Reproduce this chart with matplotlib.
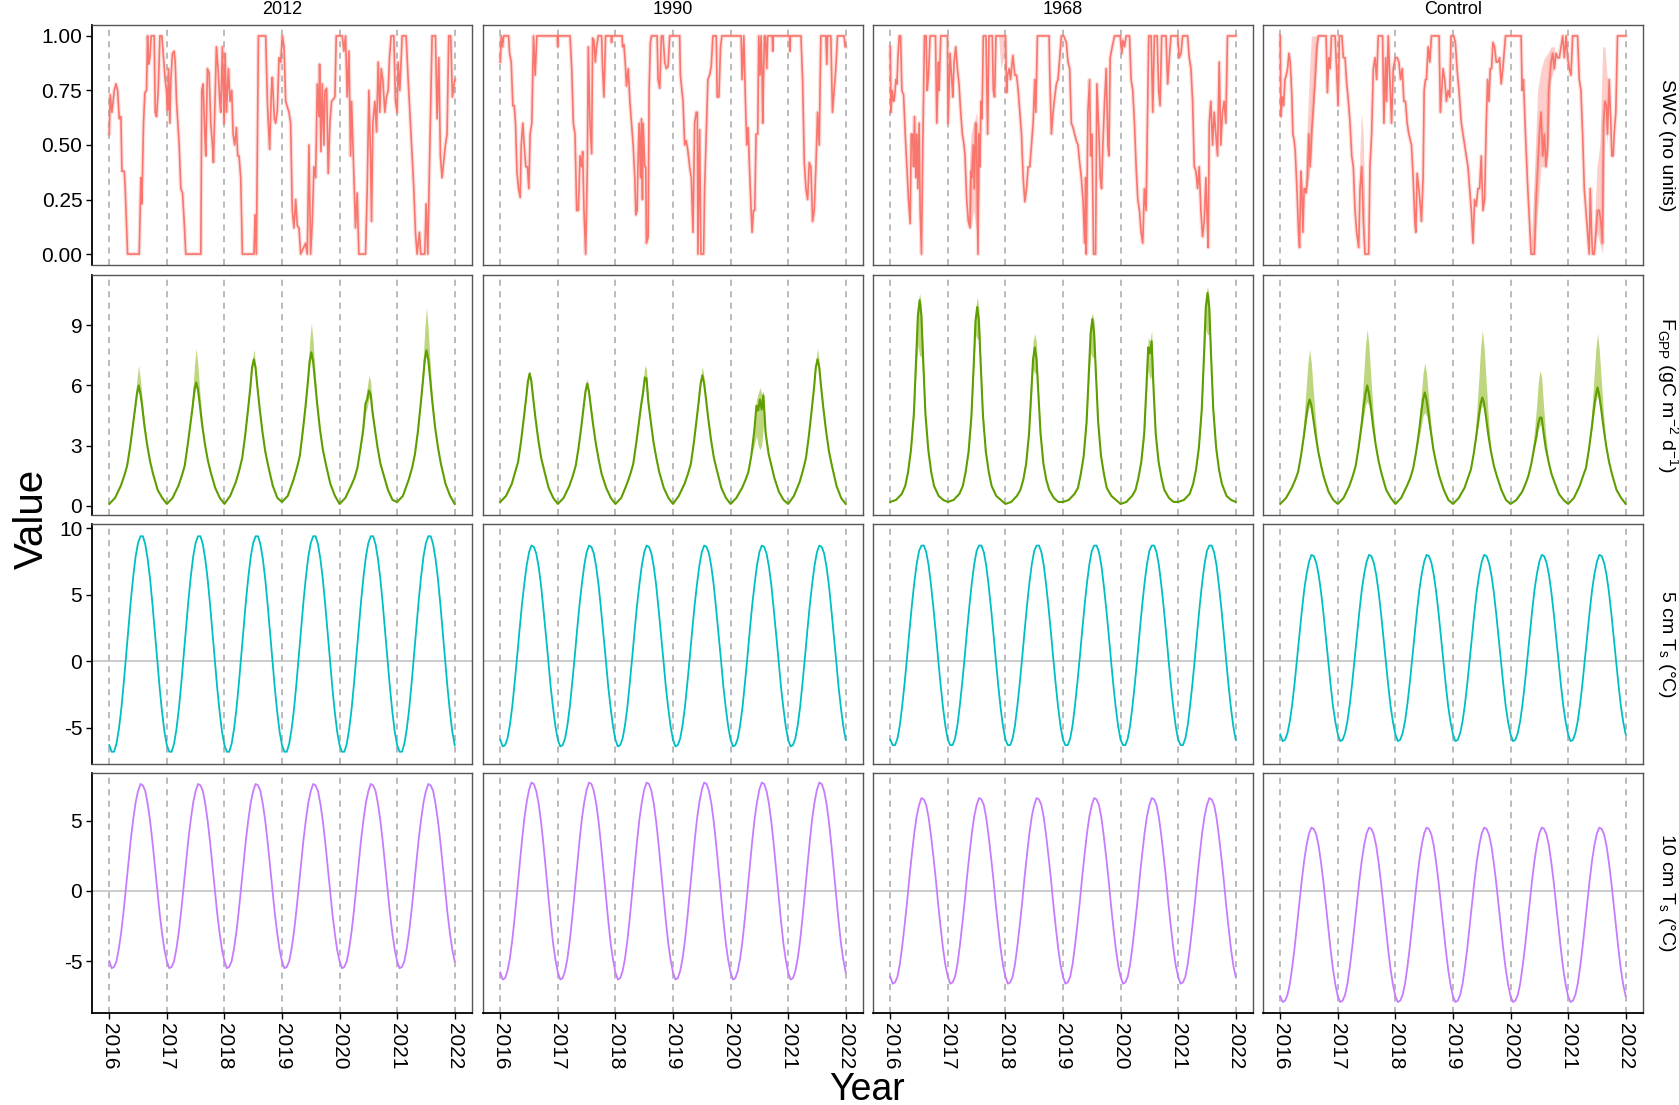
import numpy as np
import matplotlib
matplotlib.use("Agg")
import matplotlib.pyplot as plt

plt.rcParams['font.family'] = ['Liberation Sans', 'DejaVu Sans']

# facets
sites = ['2012', '1990', '1968', 'Control']
variables = ['SWC (no units)',
             r'F$_{\mathregular{GPP}}$ (gC m$^{\mathregular{-2}}$ d$^{\mathregular{-1}}$)',
             r'5 cm T$_{\mathregular{s}}$ ($\mathregular{\degree}$C)',
             r'10 cm T$_{\mathregular{s}}$ ($\mathregular{\degree}$C)']
years = [2016, 2017, 2018, 2019, 2020, 2021, 2022]

# ---- SWC: (years since 2016, value)
swc_2012 = [(0.000,0.55),(0.017,0.73),(0.046,0.65),(0.087,0.75),(0.116,0.78),(0.145,0.75),(0.173,0.62),(0.202,0.63),(0.220,0.38),(0.260,0.38),(0.277,0.30),(0.318,0.00),(0.520,0.00),(0.549,0.35),(0.566,0.23),(0.595,0.60),(0.618,0.74),(0.647,0.75),(0.665,1.00),(0.682,0.87),(0.705,0.90),(0.728,1.00),(0.780,1.00),(0.798,0.65),(0.821,0.63),(0.850,0.75),(0.879,1.00),(0.913,1.00),(0.942,0.90),(0.971,0.80),(0.994,0.75),(1.012,0.66),(1.029,0.85),(1.052,0.60),(1.069,0.80),(1.098,0.92),(1.127,0.93),(1.145,0.88),(1.168,0.70),(1.214,0.50),(1.243,0.30),(1.272,0.28),(1.301,0.15),(1.329,0.00),(1.590,0.00),(1.607,0.75),(1.630,0.78),(1.659,0.55),(1.676,0.45),(1.705,0.85),(1.734,0.83),(1.763,0.60),(1.792,0.50),(1.809,0.42),(1.832,0.65),(1.861,0.95),(1.890,0.85),(1.919,0.70),(1.936,0.65),(1.965,0.95),(1.994,0.60),(2.012,0.92),(2.035,0.65),(2.069,0.85),(2.098,0.70),(2.127,0.75),(2.150,0.55),(2.179,0.50),(2.208,0.58),(2.231,0.45),(2.254,0.45),(2.283,0.35),(2.312,0.00),(2.514,0.00),(2.532,0.18),(2.555,0.00),(2.590,1.00),(2.717,1.00),(2.746,0.70),(2.763,0.60),(2.786,0.48),(2.815,0.75),(2.832,0.81),(2.867,0.62),(2.890,0.60),(2.919,0.66),(2.948,0.90),(2.977,0.88),(3.006,1.00),(3.035,0.95),(3.064,0.70),(3.121,0.65),(3.150,0.60),(3.179,0.20),(3.208,0.12),(3.237,0.25),(3.266,0.13),(3.295,0.12),(3.324,0.00),(3.410,0.05),(3.439,0.00),(3.468,0.50),(3.497,0.00),(3.526,0.15),(3.555,0.40),(3.584,0.35),(3.613,0.78),(3.642,0.63),(3.653,0.87),(3.676,0.47),(3.699,0.78),(3.728,0.50),(3.746,0.75),(3.775,0.76),(3.803,0.37),(3.832,0.60),(3.861,0.70),(3.919,0.72),(3.942,1.00),(4.046,1.00),(4.075,0.93),(4.104,1.00),(4.133,0.72),(4.162,0.93),(4.191,0.45),(4.208,0.70),(4.249,0.35),(4.277,0.12),(4.306,0.28),(4.335,0.00),(4.451,0.00),(4.480,0.30),(4.509,0.75),(4.538,0.45),(4.555,0.15),(4.578,0.60),(4.613,0.70),(4.642,0.56),(4.671,0.88),(4.699,0.65),(4.723,0.85),(4.751,0.80),(4.786,0.65),(4.815,0.72),(4.844,0.75),(4.867,0.90),(4.896,1.00),(4.942,1.00),(4.971,0.70),(5.000,0.65),(5.017,0.88),(5.046,0.75),(5.087,1.00),(5.156,1.00),(5.191,0.80),(5.231,0.60),(5.289,0.30),(5.318,0.10),(5.347,0.00),(5.387,0.10),(5.410,0.00),(5.480,0.00),(5.503,0.23),(5.532,0.00),(5.561,0.40),(5.607,1.00),(5.665,1.00),(5.694,0.62),(5.723,0.90),(5.751,0.45),(5.780,0.35),(5.838,0.50),(5.867,0.55),(5.896,1.00),(5.930,1.00),(5.960,0.72),(6.000,0.80)]

swc_1990 = [(0.000,0.88),(0.017,1.00),(0.040,0.95),(0.058,1.00),(0.144,1.00),(0.162,0.92),(0.190,0.88),(0.219,0.68),(0.242,0.68),(0.265,0.60),(0.289,0.38),(0.317,0.30),(0.346,0.26),(0.364,0.50),(0.392,0.60),(0.415,0.50),(0.444,0.40),(0.473,0.40),(0.496,0.30),(0.519,0.55),(0.548,0.60),(0.577,1.00),(0.606,0.82),(0.635,1.00),(0.990,1.00),(0.998,0.95),(1.006,1.00),(1.212,1.00),(1.241,0.85),(1.269,0.60),(1.298,0.55),(1.327,0.20),(1.356,0.20),(1.385,0.45),(1.414,0.40),(1.431,0.47),(1.454,0.20),(1.483,0.00),(1.512,0.40),(1.529,0.95),(1.558,0.60),(1.587,0.46),(1.604,0.99),(1.627,0.98),(1.650,0.88),(1.673,0.95),(1.702,1.00),(1.760,1.00),(1.777,0.85),(1.800,0.72),(1.829,1.00),(1.925,1.00),(1.933,0.97),(1.941,1.00),(2.116,1.00),(2.124,0.95),(2.147,0.96),(2.170,0.88),(2.193,0.77),(2.222,0.85),(2.251,0.70),(2.279,0.60),(2.308,0.50),(2.337,0.35),(2.354,0.18),(2.377,0.20),(2.395,0.45),(2.412,0.60),(2.435,0.35),(2.452,0.62),(2.470,0.25),(2.481,0.60),(2.510,0.40),(2.527,0.40),(2.539,0.05),(2.568,0.08),(2.585,0.75),(2.608,0.97),(2.626,1.00),(2.724,1.00),(2.741,0.80),(2.770,0.76),(2.799,1.00),(2.827,1.00),(2.856,0.88),(2.885,0.85),(2.914,0.86),(2.943,1.00),(3.116,1.00),(3.128,0.82),(3.174,0.70),(3.203,0.50),(3.231,0.52),(3.260,0.47),(3.289,0.40),(3.318,0.35),(3.347,0.10),(3.376,0.60),(3.404,0.65),(3.422,0.65),(3.433,0.00),(3.462,0.57),(3.485,0.00),(3.531,0.00),(3.549,0.30),(3.578,0.55),(3.606,0.80),(3.635,0.82),(3.664,0.86),(3.693,1.00),(3.751,1.00),(3.768,0.72),(3.797,0.72),(3.826,0.95),(3.849,1.00),(4.183,1.00),(4.201,0.80),(4.230,1.00),(4.258,0.70),(4.282,0.50),(4.305,0.58),(4.328,0.40),(4.357,0.20),(4.374,0.10),(4.397,0.20),(4.420,0.20),(4.443,0.55),(4.472,0.55),(4.489,1.00),(4.512,0.82),(4.530,1.00),(4.547,0.82),(4.558,0.60),(4.587,1.00),(4.605,1.00),(4.628,0.85),(4.645,1.00),(4.724,1.00),(4.732,0.93),(4.740,1.00),(5.024,1.00),(5.032,0.93),(5.040,1.00),(5.222,1.00),(5.251,0.80),(5.280,0.42),(5.309,0.30),(5.338,0.25),(5.366,0.42),(5.395,0.40),(5.424,0.15),(5.453,0.20),(5.482,0.40),(5.511,0.65),(5.540,0.50),(5.568,1.00),(5.655,1.00),(5.672,0.87),(5.684,1.00),(5.741,1.00),(5.770,0.65),(5.799,0.75),(5.828,0.85),(5.857,1.00),(5.972,1.00),(5.990,0.95),(6.000,0.95)]

swc_1968 = [(0.000,0.95),(0.012,0.65),(0.035,0.75),(0.058,0.70),(0.075,0.72),(0.098,0.80),(0.115,0.78),(0.133,0.90),(0.156,1.00),(0.179,1.00),(0.202,0.75),(0.231,0.73),(0.260,0.55),(0.289,0.40),(0.317,0.25),(0.346,0.14),(0.364,0.55),(0.387,0.55),(0.404,0.40),(0.421,0.63),(0.444,0.35),(0.462,0.55),(0.479,0.30),(0.502,0.60),(0.519,0.20),(0.542,0.00),(0.565,0.50),(0.594,1.00),(0.623,1.00),(0.641,0.75),(0.664,0.82),(0.692,1.00),(0.785,1.00),(0.808,0.60),(0.837,0.88),(0.848,0.75),(0.877,1.00),(0.993,1.00),(1.004,0.60),(1.039,0.92),(1.068,0.80),(1.085,0.72),(1.108,0.88),(1.137,0.95),(1.166,0.85),(1.194,0.78),(1.223,0.65),(1.252,0.55),(1.281,0.50),(1.298,0.45),(1.327,0.25),(1.356,0.15),(1.385,0.12),(1.402,0.38),(1.414,0.35),(1.443,0.50),(1.460,0.30),(1.483,0.60),(1.500,0.50),(1.523,0.00),(1.541,0.55),(1.558,0.40),(1.575,0.70),(1.593,0.62),(1.616,1.00),(1.662,1.00),(1.691,0.55),(1.714,1.00),(1.772,1.00),(1.789,0.75),(1.812,0.72),(1.835,1.00),(2.002,1.00),(2.020,0.74),(2.037,0.82),(2.066,0.85),(2.089,0.80),(2.106,0.85),(2.129,0.91),(2.164,0.82),(2.193,0.82),(2.222,0.75),(2.250,0.65),(2.279,0.55),(2.308,0.35),(2.337,0.24),(2.366,0.30),(2.395,0.40),(2.424,0.40),(2.452,0.50),(2.481,0.60),(2.510,0.80),(2.527,0.65),(2.556,1.00),(2.758,1.00),(2.770,0.83),(2.799,0.55),(2.827,0.65),(2.856,0.72),(2.885,0.78),(2.914,0.80),(2.943,0.90),(2.972,1.00),(3.012,1.00),(3.058,0.97),(3.087,0.88),(3.116,0.85),(3.145,0.60),(3.174,0.58),(3.203,0.55),(3.231,0.52),(3.260,0.50),(3.289,0.42),(3.318,0.35),(3.347,0.25),(3.376,0.05),(3.393,0.35),(3.404,0.00),(3.433,0.65),(3.462,0.80),(3.480,0.45),(3.503,0.55),(3.531,0.00),(3.566,0.00),(3.589,0.78),(3.624,0.55),(3.647,0.35),(3.670,0.30),(3.693,0.50),(3.722,0.70),(3.751,0.85),(3.780,0.50),(3.797,0.45),(3.820,0.90),(3.855,0.95),(3.895,1.00),(3.993,1.00),(4.022,0.92),(4.039,0.98),(4.068,0.95),(4.097,1.00),(4.155,1.00),(4.183,0.80),(4.212,0.75),(4.241,0.60),(4.270,0.40),(4.299,0.25),(4.328,0.20),(4.357,0.10),(4.385,0.05),(4.414,0.30),(4.443,0.20),(4.489,1.00),(4.530,1.00),(4.559,0.65),(4.587,1.00),(4.634,1.00),(4.662,0.75),(4.686,0.68),(4.714,1.00),(4.789,1.00),(4.818,0.78),(4.847,0.90),(4.876,1.00),(4.991,1.00),(5.020,0.90),(5.049,0.92),(5.078,1.00),(5.164,1.00),(5.193,0.90),(5.222,0.85),(5.251,0.70),(5.280,0.40),(5.309,0.38),(5.338,0.30),(5.366,0.40),(5.395,0.20),(5.424,0.08),(5.453,0.15),(5.482,0.35),(5.499,0.20),(5.522,0.03),(5.540,0.60),(5.568,0.70),(5.597,0.50),(5.626,0.65),(5.655,0.55),(5.684,0.45),(5.713,0.88),(5.741,0.50),(5.770,0.65),(5.799,0.70),(5.828,0.60),(5.857,1.00),(6.000,1.00)]

swc_control = [(0.000,1.00),(0.012,0.63),(0.035,0.72),(0.058,0.68),(0.081,0.80),(0.104,0.82),(0.127,0.85),(0.150,0.92),(0.173,0.88),(0.202,0.72),(0.219,0.55),(0.242,0.52),(0.260,0.47),(0.289,0.30),(0.317,0.10),(0.335,0.03),(0.358,0.38),(0.375,0.30),(0.392,0.10),(0.415,0.30),(0.433,0.30),(0.450,0.28),(0.473,0.35),(0.496,0.55),(0.519,0.40),(0.548,0.57),(0.577,0.68),(0.606,0.80),(0.635,0.95),(0.664,1.00),(0.796,1.00),(0.819,0.74),(0.842,0.90),(0.866,0.85),(0.889,1.00),(0.952,1.00),(0.981,0.83),(1.004,0.68),(1.027,1.00),(1.070,1.00),(1.096,0.90),(1.125,0.90),(1.154,0.78),(1.183,0.70),(1.212,0.60),(1.241,0.45),(1.269,0.40),(1.298,0.20),(1.327,0.10),(1.362,0.03),(1.385,0.30),(1.414,0.40),(1.443,0.15),(1.471,0.00),(1.535,0.00),(1.558,0.40),(1.587,0.55),(1.616,0.85),(1.645,0.90),(1.673,0.80),(1.702,1.00),(1.777,1.00),(1.800,0.60),(1.829,0.90),(1.847,0.70),(1.875,1.00),(1.904,0.80),(1.933,0.60),(1.962,0.85),(2.002,0.90),(2.031,0.90),(2.060,0.88),(2.089,0.80),(2.118,0.85),(2.147,0.70),(2.175,0.70),(2.204,0.60),(2.233,0.55),(2.279,0.50),(2.308,0.35),(2.337,0.15),(2.354,0.10),(2.377,0.37),(2.406,0.30),(2.424,0.25),(2.452,0.15),(2.481,0.35),(2.499,0.75),(2.522,0.80),(2.539,0.80),(2.568,0.95),(2.597,0.88),(2.626,1.00),(2.758,1.00),(2.781,0.65),(2.804,0.75),(2.827,0.85),(2.856,0.80),(2.885,0.70),(2.914,0.75),(2.943,0.72),(2.966,1.00),(3.012,1.00),(3.041,0.97),(3.070,0.85),(3.104,0.75),(3.145,0.60),(3.174,0.55),(3.203,0.50),(3.231,0.45),(3.260,0.40),(3.289,0.30),(3.318,0.20),(3.347,0.05),(3.376,0.25),(3.404,0.22),(3.433,0.30),(3.462,0.30),(3.491,0.45),(3.520,0.20),(3.549,0.25),(3.578,0.60),(3.601,0.80),(3.624,0.70),(3.647,0.85),(3.670,0.85),(3.693,0.97),(3.722,0.95),(3.751,0.88),(3.780,0.88),(3.808,0.90),(3.837,0.78),(3.866,0.85),(3.912,1.00),(4.097,1.00),(4.183,1.00),(4.201,0.75),(4.224,0.80),(4.259,0.55),(4.299,0.30),(4.328,0.15),(4.357,0.00),(4.414,0.00),(4.443,0.25),(4.472,0.40),(4.501,0.55),(4.530,0.65),(4.559,0.45),(4.587,0.55),(4.616,0.40),(4.645,0.50),(4.662,0.75),(4.703,0.88),(4.732,0.92),(4.761,0.85),(4.789,0.92),(4.818,0.90),(4.847,0.90),(4.876,0.95),(4.905,1.00),(4.934,0.90),(4.963,1.00),(4.991,0.90),(5.020,0.85),(5.049,0.82),(5.078,1.00),(5.164,1.00),(5.193,0.80),(5.222,0.75),(5.251,0.55),(5.280,0.30),(5.309,0.20),(5.338,0.10),(5.366,0.00),(5.384,0.30),(5.407,0.10),(5.424,0.00),(5.453,0.00),(5.482,0.10),(5.511,0.20),(5.540,0.20),(5.568,0.15),(5.597,0.05),(5.615,0.60),(5.638,0.70),(5.666,0.68),(5.684,0.55),(5.713,0.80),(5.741,0.60),(5.759,0.45),(5.782,0.45),(5.799,0.55),(5.828,0.65),(5.857,1.00),(6.000,1.00)]

# wide parts of the SWC ribbon: (years since 2016, low, high)
swc_band_1968 = [
    [(1.36,0.15,0.30),(1.40,0.12,0.55),(1.45,0.20,0.60),(1.50,0.10,0.65),(1.55,0.30,0.50)],
    [(1.88,1.00,1.00),(1.92,0.85,1.00),(1.97,0.90,1.00),(2.00,1.00,1.00)],
]
swc_band_control = [
    [(0.43,0.28,0.35),(0.50,0.35,0.80),(0.54,0.45,1.00),(0.60,0.75,1.00),(0.66,1.00,1.00)],
    [(1.38,0.30,0.45),(1.41,0.35,0.65),(1.44,0.10,0.55),(1.47,0.00,0.20)],
    [(4.36,0.00,0.05),(4.41,0.00,0.35),(4.47,0.20,0.75),(4.53,0.40,0.85),(4.59,0.40,0.90),(4.65,0.45,0.92),(4.70,0.80,0.95),(4.76,0.85,0.95)],
    [(5.45,0.00,0.10),(5.50,0.10,0.40),(5.55,0.05,0.50),(5.60,0.00,0.95),(5.64,0.60,0.95),(5.68,0.50,0.80)],
]

# ---- GPP: sampled at these fractions of each year, one row per year 2016..2021
gpp_season = [0.00, 0.10, 0.20, 0.26, 0.31, 0.36, 0.41, 0.45, 0.48, 0.51, 0.54, 0.57, 0.61, 0.66, 0.71, 0.76, 0.84, 0.92]
gpp_2012 = [
    [0.1, 0.4, 1.0, 1.5, 2.0, 2.9, 4.0, 4.9, 5.6, 6.0, 5.6, 5.0, 4.0, 3.0, 2.2, 1.6, 0.8, 0.4],
    [0.1, 0.4, 1.0, 1.5, 2.0, 3.0, 4.1, 5.0, 5.8, 6.15, 5.8, 5.1, 4.1, 3.1, 2.3, 1.7, 0.9, 0.4],
    [0.1, 0.5, 1.2, 1.8, 2.4, 3.5, 4.8, 5.9, 6.9, 7.3, 6.9, 6.0, 4.9, 3.7, 2.7, 2.0, 1.0, 0.4],
    [0.2, 0.5, 1.3, 1.9, 2.5, 3.7, 5.0, 6.2, 7.2, 7.65, 7.2, 6.3, 5.1, 3.8, 2.8, 2.1, 1.1, 0.5],
    [0.1, 0.4, 1.0, 1.4, 1.9, 2.8, 3.8, 5.1, 5.3, 5.75, 5.55, 4.7, 3.9, 2.9, 2.1, 1.6, 0.8, 0.3],
    [0.2, 0.5, 1.3, 1.9, 2.6, 3.7, 5.1, 6.3, 7.3, 7.75, 7.3, 6.4, 5.2, 3.9, 2.9, 2.1, 1.1, 0.5],
]
gpp_1990 = [
    [0.2, 0.5, 1.1, 1.7, 2.2, 3.2, 4.4, 5.4, 6.2, 6.6, 6.2, 5.4, 4.4, 3.3, 2.4, 1.8, 0.9, 0.4],
    [0.1, 0.4, 1.0, 1.5, 2.0, 2.9, 4.0, 5.0, 5.7, 6.1, 5.7, 5.0, 4.1, 3.1, 2.3, 1.6, 0.9, 0.4],
    [0.1, 0.4, 1.1, 1.6, 2.1, 3.1, 4.2, 5.1, 5.65, 6.4, 6.35, 5.2, 4.3, 3.2, 2.4, 1.7, 0.9, 0.4],
    [0.1, 0.5, 1.1, 1.6, 2.1, 3.1, 4.3, 5.3, 6.1, 6.5, 6.1, 5.4, 4.4, 3.3, 2.4, 1.8, 0.9, 0.4],
    [0.1, 0.4, 0.9, 1.3, 1.7, 2.5, 3.7, 5.0, 4.75, 5.3, 4.8, 5.5, 3.6, 2.6, 2.0, 1.4, 0.7, 0.3],
    [0.1, 0.5, 1.2, 1.8, 2.4, 3.5, 4.8, 5.9, 6.9, 7.3, 6.9, 6.0, 4.9, 3.7, 2.7, 2.0, 1.0, 0.4],
]
gpp_1968 = [
    [0.2, 0.3, 0.6, 1.0, 1.7, 2.8, 4.6, 7.4, 9.5, 10.25, 9.5, 7.4, 4.6, 2.8, 1.7, 1.0, 0.5, 0.3],
    [0.2, 0.3, 0.6, 1.0, 1.7, 2.7, 4.5, 7.1, 9.2, 9.9, 9.2, 7.1, 4.5, 2.7, 1.7, 1.0, 0.5, 0.3],
    [0.1, 0.2, 0.5, 0.8, 1.3, 2.1, 3.6, 5.7, 7.3, 7.9, 7.3, 5.7, 3.6, 2.1, 1.3, 0.8, 0.4, 0.2],
    [0.2, 0.3, 0.6, 0.9, 1.6, 2.5, 4.2, 6.7, 8.6, 9.3, 8.6, 6.7, 4.2, 2.5, 1.6, 0.9, 0.5, 0.3],
    [0.1, 0.2, 0.5, 0.8, 1.4, 2.2, 3.6, 6.0, 7.9, 7.6, 8.2, 6.0, 3.6, 2.2, 1.4, 0.8, 0.4, 0.2],
    [0.2, 0.3, 0.6, 1.1, 1.8, 2.9, 4.8, 7.6, 9.9, 10.6, 9.9, 7.6, 4.8, 2.9, 1.8, 1.1, 0.5, 0.3],
]
gpp_control = [
    [0.1, 0.4, 0.9, 1.3, 1.7, 2.5, 3.5, 4.4, 5.0, 5.3, 5.0, 4.4, 3.6, 2.7, 2.0, 1.4, 0.7, 0.3],
    [0.1, 0.4, 1.0, 1.5, 2.0, 2.9, 4.0, 5.0, 5.6, 6.0, 5.6, 5.0, 4.0, 3.0, 2.2, 1.6, 0.8, 0.4],
    [0.1, 0.4, 1.0, 1.4, 1.9, 2.7, 3.7, 4.7, 5.3, 5.65, 5.3, 4.7, 3.8, 2.8, 2.1, 1.5, 0.8, 0.3],
    [0.1, 0.4, 0.9, 1.4, 1.8, 2.6, 3.6, 4.5, 5.1, 5.4, 5.1, 4.5, 3.6, 2.7, 2.0, 1.5, 0.8, 0.3],
    [0.1, 0.3, 0.7, 1.1, 1.5, 2.1, 2.9, 3.5, 4.1, 4.4, 4.4, 3.7, 2.9, 2.2, 1.6, 1.2, 0.6, 0.3],
    [0.1, 0.4, 1.0, 1.5, 1.9, 2.8, 3.9, 4.9, 5.5, 5.9, 5.5, 4.9, 4.0, 3.0, 2.2, 1.6, 0.8, 0.4],
]
gpp_end = [0.1, 0.1, 0.2, 0.1]   # value on 1 Jan 2022

# GPP ribbon around the summer peaks (same fractions as gpp_season[6:13])
gpp_hi_2012 = [[4.2,5.3,6.3,7.0,6.3,5.4,4.2],[4.4,5.7,7.0,7.85,7.0,5.8,4.4],[4.9,6.1,7.1,7.8,7.1,6.2,5.0],
               [5.2,6.8,8.2,9.1,8.2,6.9,5.3],[3.9,5.4,5.9,6.5,6.2,5.0,4.0],[5.4,7.2,8.8,9.9,8.8,7.3,5.5]]
gpp_lo_2012 = [[4.0,4.8,5.4,5.8,5.4,4.9,4.0],[4.1,4.9,5.6,5.9,5.6,5.0,4.1],[4.8,5.8,6.7,7.1,6.7,5.9,4.9],
               [5.0,6.1,7.0,7.4,7.0,6.2,5.1],[3.6,4.6,4.9,5.4,5.3,4.5,3.8],[5.1,6.2,7.1,7.5,7.1,6.3,5.2]]
gpp_hi_1990 = [[4.4,5.5,6.3,6.7,6.3,5.5,4.4],[4.0,5.1,5.8,6.35,5.8,5.1,4.1],[4.3,5.4,6.1,7.0,6.8,5.5,4.4],
               [4.4,5.5,6.4,6.95,6.4,5.6,4.5],[3.9,5.3,5.6,5.9,5.6,5.7,3.8],[4.9,6.1,7.2,7.85,7.2,6.2,5.0]]
gpp_lo_1990 = [[4.4,5.3,6.1,6.5,6.1,5.3,4.4],[4.0,4.9,5.6,6.0,5.6,4.9,4.1],[4.2,5.0,5.5,6.2,6.2,5.1,4.3],
               [4.3,5.2,6.0,6.4,6.0,5.3,4.4],[3.0,3.5,3.0,2.8,3.0,4.0,3.2],[4.8,5.8,6.8,7.2,6.8,5.9,4.9]]
gpp_hi_1968 = [[4.7,7.7,10.0,10.6,10.0,7.7,4.7],[4.6,7.4,9.8,10.4,9.8,7.4,4.6],[3.7,6.2,8.2,8.6,8.1,6.0,3.7],
               [4.3,7.0,9.3,9.6,9.2,7.0,4.3],[3.8,6.3,8.4,8.2,8.75,6.4,3.8],[4.9,7.9,10.5,10.95,10.4,7.9,4.9]]
gpp_lo_1968 = [[4.4,6.8,8.0,7.5,7.4,6.2,4.2],[4.3,6.7,8.5,8.3,8.3,6.6,4.3],[3.5,5.4,6.8,6.6,6.6,5.4,3.5],
               [4.0,6.3,7.6,7.4,7.4,6.2,4.0],[3.4,5.6,6.8,6.3,6.5,5.6,3.4],[4.6,7.2,8.8,8.5,8.6,7.0,4.6]]
gpp_hi_control = [[4.3,5.9,7.1,7.8,7.1,5.9,4.4],[4.8,6.6,8.0,8.8,8.0,6.6,4.8],[4.2,5.6,6.6,7.15,6.6,5.6,4.3],
                  [4.6,6.4,7.9,8.75,7.9,6.5,4.6],[3.6,4.9,6.1,6.75,6.4,5.1,3.6],[4.7,6.5,7.8,8.6,7.8,6.5,4.8]]
gpp_lo_control = [[3.4,4.2,4.7,5.0,4.7,4.2,3.5],[3.8,4.5,5.0,5.2,5.0,4.5,3.8],[3.4,4.0,4.5,4.65,4.5,4.1,3.5],
                  [3.5,4.2,4.8,5.0,4.8,4.3,3.5],[2.8,3.3,3.8,4.0,4.1,3.5,2.8],[3.8,4.6,5.2,5.5,5.2,4.7,3.9]]

# ---- soil temperature: one annual cycle (24 half-month samples), identical every year
ts5_2012 = [-6.3,-6.8,-6.8,-6.2,-5.1,-3.6,-1.7,0.4,2.5,4.6,6.4,7.9,8.9,9.4,9.4,8.8,7.7,6.2,4.3,2.2,0.1,-2.0,-3.8,-5.3]
ts5_1990 = [-5.9,-6.4,-6.3,-5.8,-4.8,-3.4,-1.6,0.3,2.3,4.2,5.8,7.2,8.2,8.7,8.6,8.1,7.1,5.7,3.9,2.0,0.1,-1.9,-3.5,-4.9]
ts5_1968 = [-5.9,-6.3,-6.3,-5.8,-4.8,-3.3,-1.6,0.3,2.3,4.2,5.9,7.3,8.3,8.7,8.7,8.2,7.2,5.7,4.0,2.1,0.1,-1.8,-3.5,-4.9]
ts5_control = [-5.5,-6.0,-5.9,-5.4,-4.5,-3.2,-1.6,0.2,2.0,3.8,5.4,6.6,7.5,8.0,7.9,7.4,6.5,5.2,3.6,1.8,0.0,-1.8,-3.4,-4.6]
ts10_2012 = [-5.0,-5.5,-5.4,-5.0,-4.1,-2.9,-1.4,0.3,2.0,3.7,5.1,6.3,7.1,7.6,7.5,7.1,6.2,5.0,3.5,1.8,0.1,-1.6,-3.0,-4.2]
ts10_1990 = [-5.8,-6.3,-6.2,-5.7,-4.8,-3.5,-1.9,-0.1,1.7,3.5,5.1,6.3,7.2,7.7,7.6,7.1,6.2,4.9,3.3,1.5,-0.3,-2.1,-3.7,-4.9]
ts10_1968 = [-6.1,-6.6,-6.5,-6.1,-5.2,-3.9,-2.4,-0.8,1.0,2.6,4.1,5.3,6.1,6.6,6.5,6.1,5.2,3.9,2.4,0.8,-1.0,-2.6,-4.1,-5.3]
ts10_control = [-7.5,-7.9,-7.8,-7.4,-6.6,-5.4,-4.0,-2.4,-0.8,0.8,2.2,3.3,4.1,4.5,4.4,4.0,3.2,2.0,0.6,-1.0,-2.6,-4.2,-5.6,-6.7]

swc_data = [swc_2012, swc_1990, swc_1968, swc_control]
swc_bands = [[], [], swc_band_1968, swc_band_control]
gpp_data = [gpp_2012, gpp_1990, gpp_1968, gpp_control]
gpp_hi = [gpp_hi_2012, gpp_hi_1990, gpp_hi_1968, gpp_hi_control]
gpp_lo = [gpp_lo_2012, gpp_lo_1990, gpp_lo_1968, gpp_lo_control]
ts5_data = [ts5_2012, ts5_1990, ts5_1968, ts5_control]
ts10_data = [ts10_2012, ts10_1990, ts10_1968, ts10_control]

colors = ['#F8766D', '#5E9E00', '#00BFC4', '#C77CFF']
ylims = [(-0.05, 1.05), (-0.45, 11.5), (-7.72, 10.32), (-8.68, 8.38)]
yticks = [[0, 0.25, 0.5, 0.75, 1.0], [0, 3, 6, 9], [-5, 0, 5, 10], [-5, 0, 5]]

# ---- layout in pixels
W, H = 1679, 1105
col_left = [92, 483, 873, 1263]
row_top = [25, 275, 524, 773]
pw, ph = 380, 240

fig = plt.figure(figsize=(W / 100, H / 100), dpi=100)

for r in range(4):
    for c in range(4):
        ax = fig.add_axes([col_left[c] / W, 1 - (row_top[r] + ph) / H, pw / W, ph / H])
        ax.set_xlim(2015.7, 2022.3)
        ax.set_ylim(*ylims[r])
        for yr in years:
            ax.axvline(yr, color='#a8a8a8', lw=1.1, ls=(0, (4, 3.5)), zorder=1)
        col = colors[r]

        if r == 0:
            pts = swc_data[c]
            t = [2016 + p[0] for p in pts]
            v = [p[1] for p in pts]
            for seg in swc_bands[c]:
                ax.fill_between([2016 + s[0] for s in seg], [s[1] for s in seg], [s[2] for s in seg],
                                color=col, alpha=0.35, lw=0, zorder=2)
            ax.plot(t, v, color=col, lw=3.0, alpha=0.22, zorder=2)
            ax.plot(t, v, color=col, lw=1.2, zorder=3)
        elif r == 1:
            t, v = [], []
            for i, row in enumerate(gpp_data[c]):
                t += [years[i] + f for f in gpp_season]
                v += row
                rt = [years[i] + gpp_season[5]] + [years[i] + f for f in gpp_season[6:13]] + [years[i] + gpp_season[13]]
                hi = [row[5]] + gpp_hi[c][i] + [row[13]]
                lo = [row[5]] + gpp_lo[c][i] + [row[13]]
                ax.fill_between(rt, lo, hi, color='#7CAE00', alpha=0.5, lw=0, zorder=2)
            t.append(2022.0)
            v.append(gpp_end[c])
            ax.plot(t, v, color=col, lw=1.5, zorder=3)
        else:
            cycle = ts5_data[c] if r == 2 else ts10_data[c]
            frac = np.arange(24) / 24
            t = np.concatenate([y + frac for y in years[:-1]] + [[2022.0]])
            v = np.concatenate([np.tile(cycle, 6), [cycle[0]]])
            ax.axhline(0, color='#bdbdbd', lw=1.1, zorder=1)
            ax.plot(t, v, color=col, lw=1.3, zorder=3)

        # frame
        for s in ax.spines.values():
            s.set_color('#555555')
            s.set_linewidth(1.0)
        ax.set_yticks(yticks[r])
        ax.set_xticks(years)
        if c == 0:
            ax.spines['left'].set_color('black')
            ax.spines['left'].set_linewidth(1.3)
            labels = ['%.2f' % y for y in yticks[r]] if r == 0 else [str(y) for y in yticks[r]]
            ax.set_yticklabels(labels)
            ax.tick_params(axis='y', length=4, width=1, labelsize=15, colors='black', pad=3)
        else:
            ax.tick_params(axis='y', length=0, labelleft=False)
        if r == 3:
            ax.spines['bottom'].set_color('black')
            ax.spines['bottom'].set_linewidth(1.3)
            ax.set_xticklabels([str(y) for y in years], rotation=-90)
            ax.tick_params(axis='x', length=4, width=1, labelsize=15, colors='black', pad=3)
        else:
            ax.tick_params(axis='x', length=0, labelbottom=False)

        if r == 0:
            fig.text((col_left[c] + pw / 2) / W, 1 - 10 / H, sites[c], ha='center', va='center', fontsize=13)
    fig.text(1667 / W, 1 - (row_top[r] + ph / 2) / H, variables[r], rotation=-90,
             ha='center', va='center', fontsize=14)

fig.text(32 / W, 1 - 519 / H, 'Value', rotation=90, ha='center', va='center', fontsize=29)
fig.text(867 / W, 1 - 1100 / H, 'Year', ha='center', va='baseline', fontsize=27)

fig.savefig('out.png', dpi=100)
